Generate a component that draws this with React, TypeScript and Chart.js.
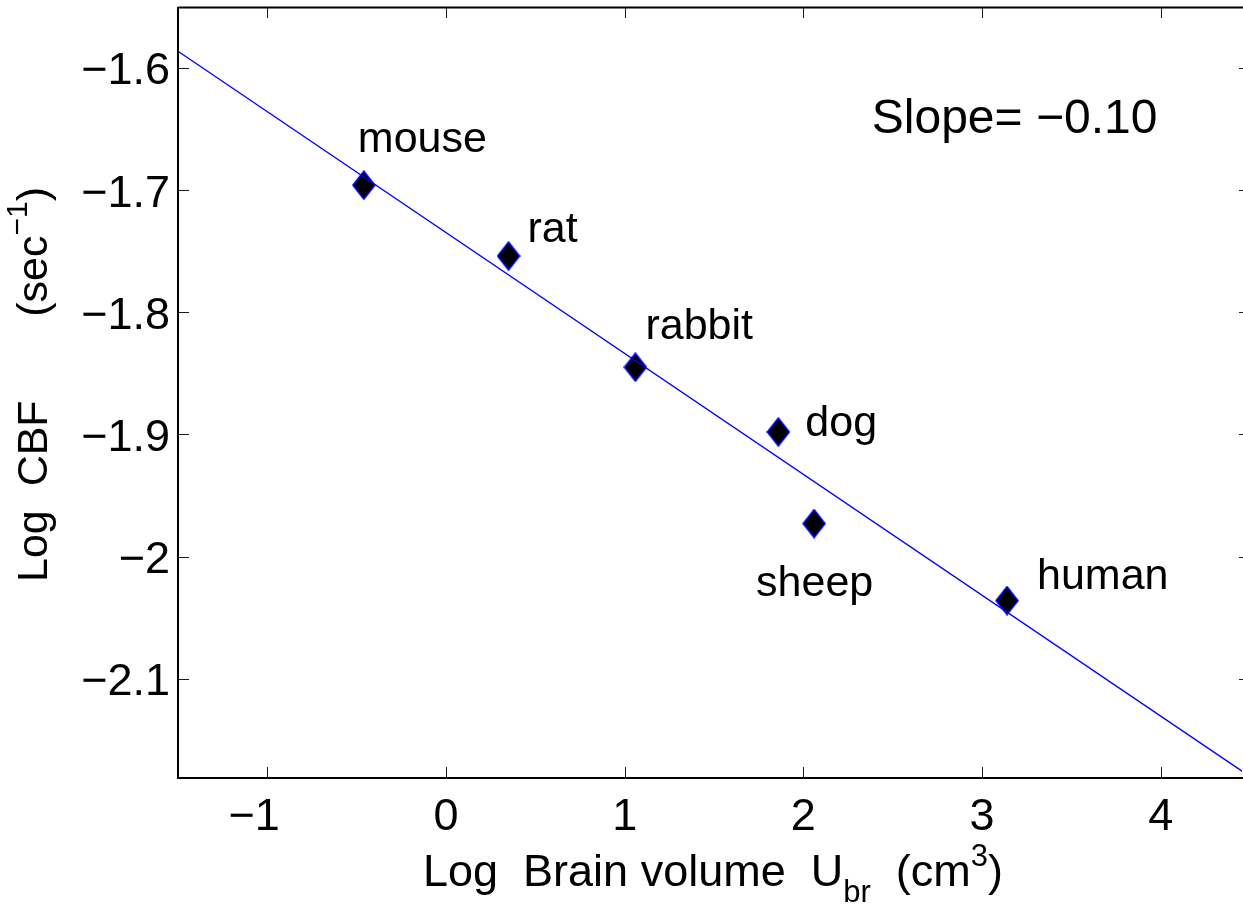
import React, { useEffect, useRef } from 'react';
import { Chart, registerables } from 'chart.js';

Chart.register(...registerables);

// ---- data ----
const species = ['mouse', 'rat', 'rabbit', 'dog', 'sheep', 'human'];
const logBrainVolume = [-0.46, 0.35, 1.06, 1.86, 2.06, 3.14];
const logCBF = [-1.696, -1.754, -1.845, -1.898, -1.973, -2.036];
const fitX = [-1.5, 4.5];
const fitY = [-1.5864, -2.18];
const xTicks = [-1, 0, 1, 2, 3, 4];
const xTickLabels = ['−1', '0', '1', '2', '3', '4'];
const yTicks = [-1.6, -1.7, -1.8, -1.9, -2, -2.1];
const yTickLabels = ['−1.6', '−1.7', '−1.8', '−1.9', '−2', '−2.1'];
const xLimits = [-1.5, 4.455];
const xAxisEnd = 4.5;
const yLimits = [-2.1812, -1.5502];
const slopeText = 'Slope= −0.10';
const slopeAnchor = [2.383, -1.653];

// ---- styles ----
const FONT = "'Liberation Sans', Arial, Helvetica, sans-serif";
const labelOffsets: Array<[number, number]> = [
  [-6, -33],
  [19, -14],
  [10, -28],
  [27, 4],
  [-58, 72],
  [30, -12],
];

type Part = { t: string; s: number; dy: number };
const xTitleParts: Part[] = [
  { t: 'Log  Brain volume  U', s: 45, dy: 0 },
  { t: 'br', s: 31, dy: 16 },
  { t: '  (cm', s: 45, dy: 0 },
  { t: '3', s: 31, dy: -20 },
  { t: ')', s: 45, dy: 0 },
];
const yTitleParts: Part[] = [
  { t: 'Log  CBF       (sec', s: 43, dy: 0 },
  { t: '−1', s: 30, dy: -20 },
  { t: ')', s: 43, dy: 0 },
];

function drawParts(ctx: CanvasRenderingContext2D, parts: Part[], x: number, y: number) {
  let cx = x;
  for (const p of parts) {
    ctx.font = `${p.s}px ${FONT}`;
    ctx.fillText(p.t, cx, y + p.dy);
    cx += ctx.measureText(p.t).width;
  }
}

const matlabPlugin = {
  id: 'matlabAxes',
  afterDatasetsDraw(chart: any) {
    const { ctx, chartArea: a, scales } = chart;
    const xs = scales.x;
    const ys = scales.y;
    ctx.save();
    // box
    ctx.strokeStyle = '#000';
    ctx.lineWidth = 2;
    ctx.beginPath();
    ctx.moveTo(a.left, a.top + 0.5);
    ctx.lineTo(chart.width + 20, a.top + 0.5);
    ctx.moveTo(a.left, a.top);
    ctx.lineTo(a.left, a.bottom);
    ctx.lineTo(chart.width + 20, a.bottom);
    ctx.stroke();
    // ticks
    const tl = 11;
    ctx.lineWidth = 1;
    ctx.strokeStyle = '#1a1a1a';
    ctx.beginPath();
    xTicks.forEach((v) => {
      const px = Math.round(xs.getPixelForValue(v)) + 0.5;
      ctx.moveTo(px, a.bottom);
      ctx.lineTo(px, a.bottom - tl);
      ctx.moveTo(px, a.top);
      ctx.lineTo(px, a.top + tl);
    });
    const rightPx = xs.getPixelForValue(xAxisEnd);
    yTicks.forEach((v) => {
      const py = Math.round(ys.getPixelForValue(v)) + 0.5;
      ctx.moveTo(a.left, py);
      ctx.lineTo(a.left + tl, py);
      ctx.moveTo(rightPx, py);
      ctx.lineTo(rightPx - tl, py);
    });
    ctx.stroke();

    ctx.fillStyle = '#000';
    // x tick labels
    ctx.font = `45px ${FONT}`;
    ctx.textBaseline = 'alphabetic';
    ctx.textAlign = 'left';
    xTicks.forEach((v, i) => {
      const lab = xTickLabels[i];
      const px = xs.getPixelForValue(v);
      const neg = lab.startsWith('−');
      const num = neg ? lab.slice(1) : lab;
      const w = ctx.measureText(num).width;
      const x0 = px - w / 2;
      ctx.fillText(num, x0, a.bottom + 52);
      if (neg) {
        const mw = ctx.measureText('−').width;
        ctx.fillText('−', x0 - mw, a.bottom + 52);
      }
    });
    // y tick labels
    ctx.textAlign = 'right';
    yTicks.forEach((v, i) => {
      const py = ys.getPixelForValue(v);
      ctx.fillText(yTickLabels[i], a.left - 8, py + 16.5);
    });

    // point labels
    ctx.textAlign = 'left';
    ctx.font = `43px ${FONT}`;
    species.forEach((name, i) => {
      const px = xs.getPixelForValue(logBrainVolume[i]);
      const py = ys.getPixelForValue(logCBF[i]);
      ctx.fillText(name, px + labelOffsets[i][0], py + labelOffsets[i][1]);
    });

    // slope text
    ctx.font = `48px ${FONT}`;
    ctx.fillText(slopeText, xs.getPixelForValue(slopeAnchor[0]), ys.getPixelForValue(slopeAnchor[1]));

    // axis titles
    drawParts(ctx, xTitleParts, 423, a.bottom + 108);
    ctx.save();
    ctx.translate(47, 582);
    ctx.rotate(-Math.PI / 2);
    drawParts(ctx, yTitleParts, 0, 0);
    ctx.restore();

    ctx.restore();
  },
};

function makeDiamond(): HTMLCanvasElement {
  const c = document.createElement('canvas');
  c.width = 24;
  c.height = 30;
  const g = c.getContext('2d')!;
  g.beginPath();
  g.moveTo(12, 1);
  g.lineTo(23, 15);
  g.lineTo(12, 29);
  g.lineTo(1, 15);
  g.closePath();
  g.fillStyle = '#000';
  g.fill();
  g.strokeStyle = '#0000ff';
  g.lineWidth = 1.5;
  g.stroke();
  return c;
}

export default function App() {
  const ref = useRef<HTMLCanvasElement>(null);
  useEffect(() => {
    document.body.style.margin = '0';
    document.body.style.overflow = 'hidden';
    const diamond = makeDiamond();
    const chart = new Chart(ref.current!, {
      type: 'scatter',
      data: {
        datasets: [
          {
            type: 'line',
            data: fitX.map((x, i) => ({ x, y: fitY[i] })),
            borderColor: '#0000ff',
            borderWidth: 1.4,
            pointRadius: 0,
            fill: false,
          } as any,
          {
            data: logBrainVolume.map((x, i) => ({ x, y: logCBF[i] })),
            pointStyle: diamond as any,
            pointRadius: 12,
            backgroundColor: '#000',
            borderColor: '#0000ff',
          },
        ],
      },
      options: {
        animation: false,
        responsive: false,
        maintainAspectRatio: false,
        layout: { autoPadding: false, padding: { left: 178, right: 1, top: 7, bottom: 136 } },
        plugins: { legend: { display: false }, tooltip: { enabled: false } },
        scales: {
          x: { type: 'linear', display: false, min: xLimits[0], max: xLimits[1] },
          y: { type: 'linear', display: false, min: yLimits[0], max: yLimits[1] },
        },
      },
      plugins: [matlabPlugin],
    });
    return () => chart.destroy();
  }, []);
  return (
    <div style={{ width: 1243, height: 914, background: '#fff' }}>
      <canvas ref={ref} width={1243} height={914} style={{ display: 'block' }} />
    </div>
  );
}
